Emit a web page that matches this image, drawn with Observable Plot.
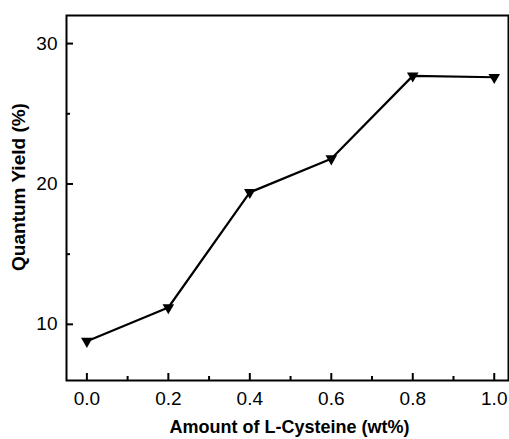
<!DOCTYPE html>
<html>
<head>
<meta charset="utf-8">
<script src="https://cdn.jsdelivr.net/npm/d3@7"></script>
<script src="https://cdn.jsdelivr.net/npm/@observablehq/plot@0.6"></script>
<style>
  html, body { margin: 0; padding: 0; background: #fff; }
</style>
</head>
<body>
<div id="chart"></div>
<script>
const amount = [0.0, 0.2, 0.4, 0.6, 0.8, 1.0];
const quantumYield = [8.8, 11.2, 19.4, 21.8, 27.7, 27.6];
const xMajorTicks = [0.0, 0.2, 0.4, 0.6, 0.8, 1.0];
const xMinorTicks = [0.1, 0.3, 0.5, 0.7, 0.9];
const yMajorTicks = [10, 20, 30];
const yMinorTicks = [15, 25];
const xLabel = "Amount of L-Cysteine (wt%)";
const yLabel = "Quantum Yield (%)";

const data = amount.map((a, i) => ({a, q: quantumYield[i]}));

const W = 509, H = 439;
const mL = 66, mR = 1, mT = 15, mB = 59;
const pw = W - mL - mR, ph = H - mT - mB;

const chart = Plot.plot({
  width: W,
  height: H,
  marginLeft: mL,
  marginRight: mR,
  marginTop: mT,
  marginBottom: mB,
  style: {fontFamily: "'Liberation Sans', Arial, sans-serif", background: "#fff", color: "#000"},
  x: {domain: [-0.05, 1.035]},
  y: {domain: [6, 32]},
  marks: [
    Plot.axisX(xMajorTicks, {tickSize: 0, tickPadding: 11, fontSize: 19, tickFormat: d3.format(".1f"), label: null}),
    Plot.axisY(yMajorTicks, {tickSize: 0, tickPadding: 9, fontSize: 19, label: null}),
    Plot.tickX(xMajorTicks, {x: d => d, insetTop: ph - 7, stroke: "#000", strokeWidth: 2}),
    Plot.tickX(xMinorTicks, {x: d => d, insetTop: ph - 4, stroke: "#000", strokeWidth: 2}),
    Plot.tickY(yMajorTicks, {y: d => d, insetRight: pw - 7, stroke: "#000", strokeWidth: 2}),
    Plot.tickY(yMinorTicks, {y: d => d, insetRight: pw - 4, stroke: "#000", strokeWidth: 2}),
    Plot.frame({stroke: "#000", strokeWidth: 2}),
    Plot.line(data, {x: "a", y: "q", stroke: "#000", strokeWidth: 2.2}),
    Plot.dot(data, {x: "a", y: "q", symbol: "triangle", rotate: 180, r: 4.3, fill: "#000", stroke: null}),
    Plot.text([xLabel], {text: d => d, frameAnchor: "bottom", textAnchor: "middle", dx: 2, dy: 52, fontSize: 18, fontWeight: "bold", fill: "#000"}),
    Plot.text([yLabel], {text: d => d, frameAnchor: "left", textAnchor: "middle", dx: -48, dy: -11, rotate: -90, fontSize: 19, fontWeight: "bold", fill: "#000"})
  ]
});
document.getElementById("chart").appendChild(chart);
</script>
</body>
</html>
